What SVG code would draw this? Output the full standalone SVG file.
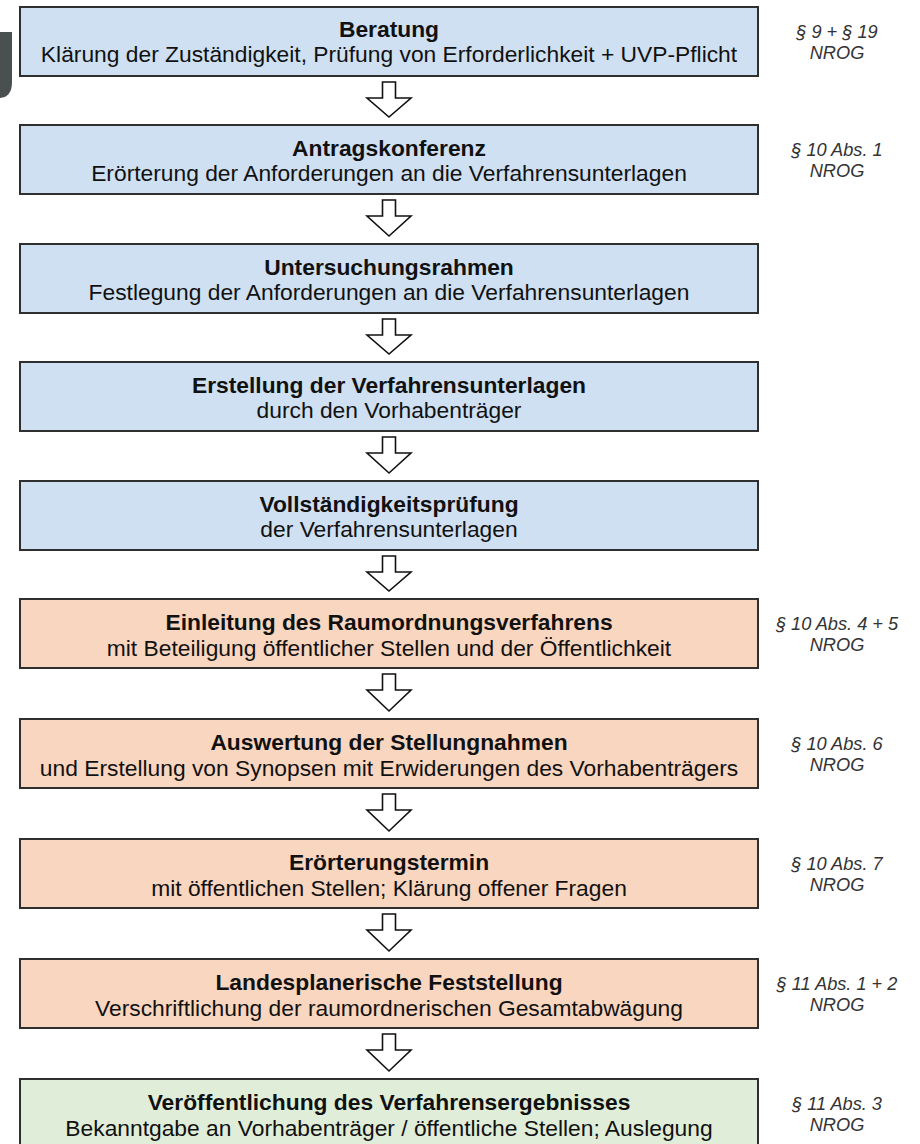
<svg xmlns="http://www.w3.org/2000/svg" width="920" height="1144" viewBox="0 0 920 1144">
<style>
.box{stroke:#2f2f2f;stroke-width:2}
.blue{fill:#cfe0f2}
.peach{fill:#f9d6bf}
.green{fill:#e0eed9}
.t{font-family:"Liberation Sans",Arial,sans-serif;font-size:22.8px;fill:#111;text-anchor:middle}
.b{font-weight:bold}
.lab{font-family:"Liberation Sans",Arial,sans-serif;font-size:18.2px;font-style:italic;fill:#333;text-anchor:middle}
.arr{fill:#fff;stroke:#111;stroke-width:1.6;stroke-linejoin:miter}
</style>
<path d="M0 32 H12 V82 Q12 97 0 98 Z" fill="#4a5050"/>
<g id="connectors">
<path class="arr" d="M382.5 82 H395.5 V98 H411 L389 117 L367 98 H382.5 Z"/>
<path class="arr" d="M382.5 200 H395.5 V216 H411 L389 236 L367 216 H382.5 Z"/>
<path class="arr" d="M382.5 319 H395.5 V335 H411 L389 354 L367 335 H382.5 Z"/>
<path class="arr" d="M382.5 437 H395.5 V453 H411 L389 473 L367 453 H382.5 Z"/>
<path class="arr" d="M382.5 556 H395.5 V572 H411 L389 591 L367 572 H382.5 Z"/>
<path class="arr" d="M382.5 674 H395.5 V690 H411 L389 711 L367 690 H382.5 Z"/>
<path class="arr" d="M382.5 794 H395.5 V810 H411 L389 831 L367 810 H382.5 Z"/>
<path class="arr" d="M382.5 914 H395.5 V930 H411 L389 951 L367 930 H382.5 Z"/>
<path class="arr" d="M382.5 1034 H395.5 V1050 H411 L389 1071 L367 1050 H382.5 Z"/>
</g>
<g id="n1">
<rect class="box blue" x="20" y="7" width="738" height="69"/>
<text class="t b" x="389" y="37">Beratung</text>
<text class="t" x="389" y="62">Klärung der Zuständigkeit, Prüfung von Erforderlichkeit + UVP-Pflicht</text>
<text class="lab" x="837" y="38">§ 9 + § 19</text>
<text class="lab" x="837" y="59">NROG</text>
</g>
<g id="n2">
<rect class="box blue" x="20" y="125" width="738" height="69"/>
<text class="t b" x="389" y="156">Antragskonferenz</text>
<text class="t" x="389" y="181">Erörterung der Anforderungen an die Verfahrensunterlagen</text>
<text class="lab" x="837" y="156">§ 10 Abs. 1</text>
<text class="lab" x="837" y="177">NROG</text>
</g>
<g id="n3">
<rect class="box blue" x="20" y="244" width="738" height="69"/>
<text class="t b" x="389" y="275">Untersuchungsrahmen</text>
<text class="t" x="389" y="300">Festlegung der Anforderungen an die Verfahrensunterlagen</text>
</g>
<g id="n4">
<rect class="box blue" x="20" y="362" width="738" height="69"/>
<text class="t b" x="389" y="393">Erstellung der Verfahrensunterlagen</text>
<text class="t" x="389" y="418">durch den Vorhabenträger</text>
</g>
<g id="n5">
<rect class="box blue" x="20" y="481" width="738" height="69"/>
<text class="t b" x="389" y="512">Vollständigkeitsprüfung</text>
<text class="t" x="389" y="537">der Verfahrensunterlagen</text>
</g>
<g id="n6">
<rect class="box peach" x="20" y="599" width="738" height="69"/>
<text class="t b" x="389" y="630">Einleitung des Raumordnungsverfahrens</text>
<text class="t" x="389" y="656">mit Beteiligung öffentlicher Stellen und der Öffentlichkeit</text>
<text class="lab" x="837" y="630">§ 10 Abs. 4 + 5</text>
<text class="lab" x="837" y="651">NROG</text>
</g>
<g id="n7">
<rect class="box peach" x="20" y="719" width="738" height="69"/>
<text class="t b" x="389" y="750">Auswertung der Stellungnahmen</text>
<text class="t" x="389" y="776">und Erstellung von Synopsen mit Erwiderungen des Vorhabenträgers</text>
<text class="lab" x="837" y="750">§ 10 Abs. 6</text>
<text class="lab" x="837" y="771">NROG</text>
</g>
<g id="n8">
<rect class="box peach" x="20" y="839" width="738" height="69"/>
<text class="t b" x="389" y="870">Erörterungstermin</text>
<text class="t" x="389" y="896">mit öffentlichen Stellen; Klärung offener Fragen</text>
<text class="lab" x="837" y="870">§ 10 Abs. 7</text>
<text class="lab" x="837" y="891">NROG</text>
</g>
<g id="n9">
<rect class="box peach" x="20" y="959" width="738" height="69"/>
<text class="t b" x="389" y="990">Landesplanerische Feststellung</text>
<text class="t" x="389" y="1016">Verschriftlichung der raumordnerischen Gesamtabwägung</text>
<text class="lab" x="837" y="990">§ 11 Abs. 1 + 2</text>
<text class="lab" x="837" y="1011">NROG</text>
</g>
<g id="n10">
<rect class="box green" x="20" y="1079" width="738" height="69"/>
<text class="t b" x="389" y="1110">Veröffentlichung des Verfahrensergebnisses</text>
<text class="t" x="389" y="1136">Bekanntgabe an Vorhabenträger / öffentliche Stellen; Auslegung</text>
<text class="lab" x="837" y="1110">§ 11 Abs. 3</text>
<text class="lab" x="837" y="1131">NROG</text>
</g>
</svg>
